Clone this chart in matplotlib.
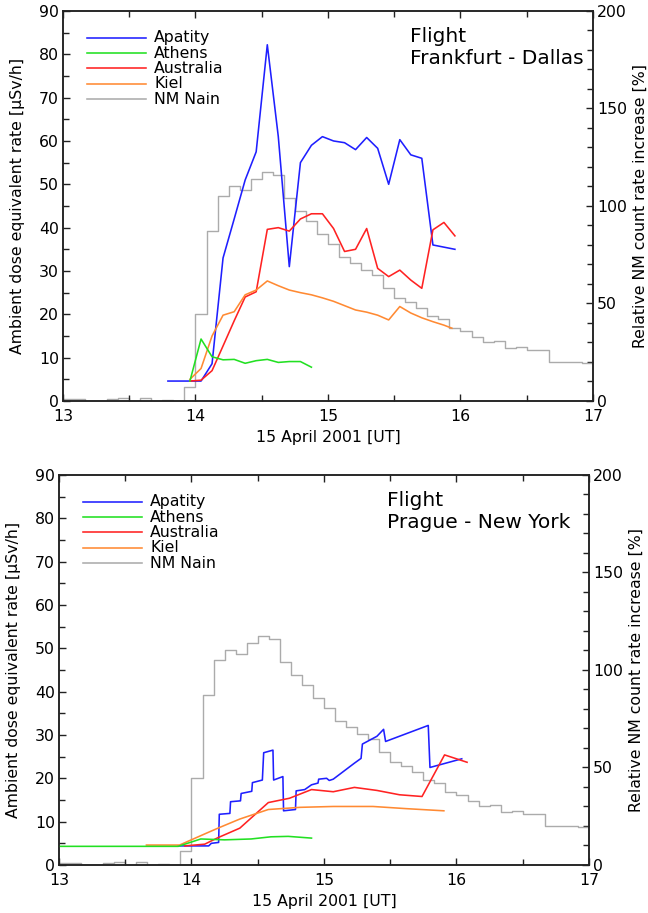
import numpy as np
import matplotlib.pyplot as plt

plt.rcParams['font.family'] = ['DejaVu Sans']

# NM Nain, 5-minute bins starting 13:00 UT, relative count rate increase [%]
nain_start = np.arange(13, 17, 1 / 12)
nain_pct = [1.2, 1.2, -0.5, -0.5, 1.0, 1.5, -0.5, 1.6, -0.5, 0.3, -1.0, 7.2,
            44.4, 87.1, 105.1, 110.2, 108.2, 113.8, 117.6, 116.0, 104.2, 97.6, 92.4, 85.6,
            80.4, 74.0, 70.6, 67.2, 64.6, 57.8, 52.6, 50.9, 47.5, 43.6, 41.9, 37.3,
            35.9, 33.0, 30.1, 30.9, 27.0, 27.9, 26.2, 26.2, 20.2, 20.2, 20.2, 19.3]

# Flight Frankfurt - Dallas, dose rate [uSv/h]
fd_t_apatity = [13.792, 13.875, 13.958, 14.042, 14.125, 14.208, 14.292, 14.375, 14.458,
                14.542, 14.625, 14.708, 14.792, 14.875, 14.958, 15.042, 15.125, 15.208,
                15.292, 15.375, 15.458, 15.542, 15.625, 15.708, 15.792, 15.875, 15.958]
fd_apatity = [4.6, 4.6, 4.6, 4.6, 8.6, 33.0, 42.0, 51.0, 57.5,
              82.2, 61.0, 31.0, 55.0, 59.0, 61.0, 60.0, 59.6, 58.0,
              60.8, 58.3, 50.0, 60.3, 56.8, 56.0, 36.0, 35.5, 35.0]

fd_t_athens = [13.958, 14.042, 14.125, 14.208, 14.292, 14.375, 14.458, 14.542,
               14.625, 14.708, 14.792, 14.875]
fd_athens = [4.6, 14.3, 10.2, 9.5, 9.6, 8.7, 9.3, 9.6, 8.9, 9.1, 9.1, 7.8]

fd_t_australia = [13.958, 14.042, 14.125, 14.208, 14.292, 14.375, 14.458, 14.542,
                  14.625, 14.708, 14.792, 14.875, 14.958, 15.042, 15.125, 15.208,
                  15.292, 15.375, 15.458, 15.542, 15.625, 15.708, 15.792, 15.875, 15.958]
fd_australia = [4.6, 4.8, 7.0, 12.7, 18.5, 24.0, 25.2, 39.6,
                40.0, 39.2, 42.0, 43.2, 43.2, 39.8, 34.5, 35.0,
                39.8, 30.6, 28.7, 30.2, 27.9, 26.0, 39.5, 41.2, 38.1]

fd_t_kiel = [13.958, 14.042, 14.125, 14.208, 14.292, 14.375, 14.458, 14.542,
             14.625, 14.708, 14.792, 14.875, 14.958, 15.042, 15.125, 15.208,
             15.292, 15.375, 15.458, 15.542, 15.625, 15.708, 15.792, 15.875, 15.935]
fd_kiel = [5.0, 7.5, 15.0, 19.8, 20.6, 24.5, 25.6, 27.7,
           26.6, 25.6, 25.0, 24.5, 23.8, 23.0, 22.0, 21.0,
           20.5, 19.8, 18.7, 21.8, 20.3, 19.2, 18.3, 17.5, 16.8]

# Flight Prague - New York, dose rate [uSv/h]
pn_t_apatity = [13.90, 14.13, 14.15, 14.205, 14.21, 14.29, 14.295, 14.37, 14.375, 14.455,
                14.46, 14.535, 14.545, 14.615, 14.62, 14.69, 14.695, 14.785, 14.79, 14.855,
                14.906, 14.955, 14.96, 15.02, 15.04, 15.07, 15.23, 15.28, 15.29, 15.40,
                15.45, 15.465, 15.787, 15.80, 16.04]
pn_apatity = [4.4, 4.4, 5.0, 5.2, 11.7, 11.9, 14.6, 14.8, 16.5, 17.0,
              19.0, 19.6, 25.9, 26.5, 19.6, 20.4, 12.5, 12.8, 17.1, 17.4,
              18.5, 18.9, 19.8, 20.0, 19.5, 19.8, 23.5, 24.6, 27.9, 29.7,
              31.3, 28.5, 32.2, 22.5, 24.5]

pn_t_athens = [13.0, 13.9, 14.07, 14.25, 14.45, 14.6, 14.73, 14.906]
pn_athens = [4.3, 4.3, 6.0, 5.8, 6.0, 6.5, 6.6, 6.2]

pn_t_australia = [13.95, 14.1, 14.2, 14.365, 14.58, 14.74, 14.906, 15.07, 15.23, 15.40,
                  15.57, 15.74, 15.91, 16.08]
pn_australia = [4.4, 4.8, 6.3, 8.5, 14.4, 15.4, 17.4, 16.9, 17.9, 17.2,
                16.2, 15.8, 25.4, 23.7]

pn_t_kiel = [13.66, 13.91, 14.11, 14.2, 14.365, 14.58, 14.82, 15.07, 15.37, 15.62, 15.905]
pn_kiel = [4.6, 4.6, 7.3, 8.5, 10.6, 12.8, 13.3, 13.5, 13.5, 13.0, 12.5]

names = ['Apatity', 'Athens', 'Australia', 'Kiel', 'NM Nain']
colors = ['#1f1fff', '#22e022', '#ff2222', '#ff8a33', '#ababab']

fig = plt.figure(figsize=(6.48, 9.13), dpi=100)
ax_top = fig.add_axes([0.0972, 0.5608, 0.8179, 0.4272])
ax_bot = fig.add_axes([0.0910, 0.0526, 0.8179, 0.4272])

panels = [
    (ax_top, 'Frankfurt - Dallas', 0.655,
     [(fd_t_apatity, fd_apatity), (fd_t_athens, fd_athens),
      (fd_t_australia, fd_australia), (fd_t_kiel, fd_kiel)]),
    (ax_bot, 'Prague - New York', 0.619,
     [(pn_t_apatity, pn_apatity), (pn_t_athens, pn_athens),
      (pn_t_australia, pn_australia), (pn_t_kiel, pn_kiel)]),
]

fs = 11.3
for ax, route, title_x, series in panels:
    ax2 = ax.twinx()
    ax.set_zorder(ax2.get_zorder() + 1)
    ax.patch.set_visible(False)

    ax2.step(np.append(nain_start, 17.0), nain_pct + [nain_pct[-1]],
             where='post', color=colors[4], lw=1.0)

    # draw order: blue, red, orange, green on top
    for idx in [0, 2, 3, 1]:
        t, v = series[idx]
        ax.plot(t, v, color=colors[idx], lw=1.15)

    ax.set_xlim(13, 17)
    ax.set_ylim(0, 90)
    ax2.set_ylim(0, 200)
    ax.set_xticks([13, 14, 15, 16, 17])
    ax.set_xticks(np.arange(13.5, 17, 1.0), minor=True)
    ax.set_yticks(np.arange(0, 91, 10))
    ax.set_yticks(np.arange(5, 90, 10), minor=True)
    ax2.set_yticks([0, 50, 100, 150, 200])
    ax2.set_yticks(np.arange(10, 200, 10), minor=True)

    ax.tick_params(axis='x', which='both', direction='in', top=True, labelsize=fs, pad=6)
    ax.tick_params(axis='y', which='both', direction='in', right=False, labelsize=fs, pad=3)
    ax2.tick_params(axis='y', which='both', direction='in', labelsize=fs, pad=3)
    for a in (ax, ax2):
        a.tick_params(which='major', length=5, width=1.0, color='#222')
        a.tick_params(which='minor', length=4, width=1.0, color='#222')
        for sp in a.spines.values():
            sp.set_linewidth(1.1)
            sp.set_color('#222')

    ax.set_xlabel('15 April 2001 [UT]', fontsize=fs, va='center')
    ax.xaxis.set_label_coords(0.5, -0.093)
    ax.set_ylabel('Ambient dose equivalent rate [µSv/h]', fontsize=fs, va='center')
    ax.yaxis.set_label_coords(-0.085, 0.5)
    ax2.set_ylabel('Relative NM count rate increase [%]', fontsize=fs, va='center')
    ax2.yaxis.set_label_coords(1.089, 0.5)

    ax.text(title_x, 0.958, 'Flight\n' + route, transform=ax.transAxes,
            fontsize=14.5, ha='left', va='top', linespacing=1.15)

    # legend drawn by hand to reproduce the tight row spacing
    for i, name in enumerate(names):
        y = 0.931 - i * 0.0392
        ax.plot([0.045, 0.157], [y, y], transform=ax.transAxes,
                color=colors[i], lw=1.15, clip_on=False)
        ax.text(0.172, y, name, transform=ax.transAxes, fontsize=fs,
                ha='left', va='center')

fig.savefig('out.png', dpi=100)
